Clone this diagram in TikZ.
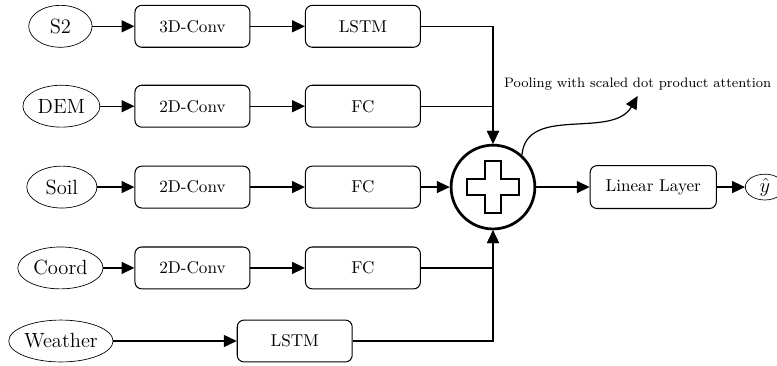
\documentclass[tikz,border=0pt]{standalone}
\usepackage{tikz}
\usetikzlibrary{positioning,arrows.meta,shapes.geometric}

\begin{document}
\begin{tikzpicture}[>={Triangle[length=7.5pt,width=7pt]}]
 \useasboundingbox (0,0) rectangle (15.95,-7.5);
 \tikzstyle{input} = [ellipse,draw,font=\large,inner xsep=0pt,minimum height=0.86cm]
 \tikzstyle{block} = [rectangle,draw,semithick,rounded corners=4pt,minimum width=2.36cm,minimum height=0.86cm]
 \tikzstyle{link} = [->,line width=0.7pt]
 % inputs
 \node[input,minimum width=1.3cm] (s2) at (1.24,-0.54) {S2};
 \node[input,minimum width=1.58cm] (dem) at (1.26,-2.18) {DEM};
 \node[input,minimum width=1.44cm] (soil) at (1.27,-3.84) {Soil};
 \node[input,minimum width=1.75cm] (coord) at (1.24,-5.5) {Coord};
 \node[input,minimum width=2.1cm] (weather) at (1.25,-7.0) {Weather};
 % encoders
 \node[block] (conv3d) at (3.95,-0.54) {3D-Conv};
 \node[block] (lstms) at (7.45,-0.54) {LSTM};
 \node[block] (convdem) at (3.95,-2.18) {2D-Conv};
 \node[block] (fcdem) at (7.45,-2.18) {FC};
 \node[block] (convsoil) at (3.95,-3.84) {2D-Conv};
 \node[block] (fcsoil) at (7.45,-3.84) {FC};
 \node[block] (convcoord) at (3.95,-5.5) {2D-Conv};
 \node[block] (fccoord) at (7.45,-5.5) {FC};
 \node[block] (lstmw) at (6.05,-7.0) {LSTM};
 % fusion
 \node[circle,draw,line width=1.6pt,minimum size=1.72cm] (plus) at (10.12,-3.84) {};
 \draw[line width=1.2pt,shift={(plus)}] (-0.17,0.53) -- (0.17,0.53) -- (0.17,0.16)
   -- (0.53,0.16) -- (0.53,-0.16) -- (0.17,-0.16) -- (0.17,-0.53) -- (-0.17,-0.53)
   -- (-0.17,-0.16) -- (-0.53,-0.16) -- (-0.53,0.16) -- (-0.17,0.16) -- cycle;
 \node (pool) at (13.09,-1.72) {\footnotesize Pooling with scaled dot product attention};
 \node[block,minimum width=2.59cm,minimum height=0.88cm] (linear) at (13.41,-3.84) {Linear Layer};
 \node[ellipse,draw,font=\large,minimum width=0.8cm,inner sep=0pt] (yhat) at (15.7,-3.84) {$\hat{y}$};
 % connections
 \draw [link] (s2) -- (conv3d);
 \draw [link] (conv3d) -- (lstms);
 \draw [link] (dem) -- (convdem);
 \draw [link] (convdem) -- (fcdem);
 \draw [link] (soil) -- (convsoil);
 \draw [link] (convsoil) -- (fcsoil);
 \draw [link] (coord) -- (convcoord);
 \draw [link] (convcoord) -- (fccoord);
 \draw [link] (weather) -- (lstmw);
 \draw [link] (lstms) -| (plus.north);
 \draw [link] (fcdem) -| (plus.north);
 \draw [link] (fcsoil) -- (plus);
 \draw [link] (fccoord) -| (plus.south);
 \draw [link] (lstmw) -| (plus.south);
 \draw [link] (plus.48) to[out=85,in=-120] (pool.south);
 \draw [link] (plus) -- (linear);
 \draw [link] (linear) -- (yhat);
\end{tikzpicture}
\end{document}
